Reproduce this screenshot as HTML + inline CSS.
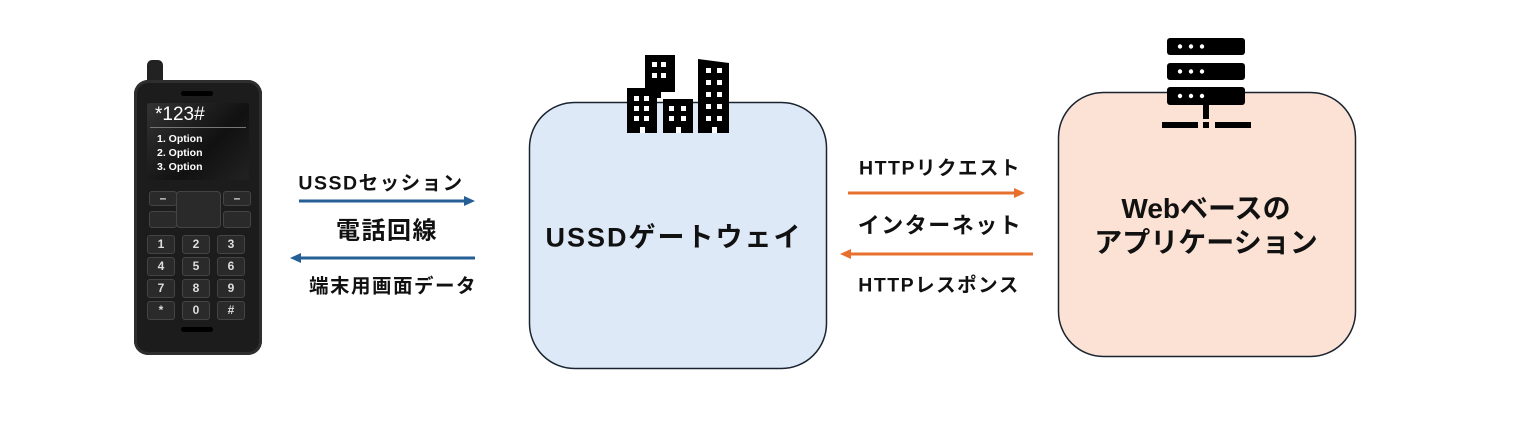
<!DOCTYPE html>
<html><head><meta charset="utf-8"><style>
body{margin:0;width:1530px;height:421px;background:#fff;position:relative;overflow:hidden;font-family:"Liberation Sans","Noto Sans CJK JP",sans-serif;font-weight:bold;color:#111}
.a{position:absolute}
.t{position:absolute;white-space:nowrap;transform:translate(-50%,-50%)}
.s{letter-spacing:1.5px}
.k{position:absolute;width:26px;height:17px;background:#2a2a2a;border:1px solid #444;border-radius:3px;color:#ddd;font-size:12px;text-align:center;line-height:17px}
</style></head><body>
<div class="a" style="left:147px;top:60px;width:16px;height:24px;background:#222;border-radius:5px 5px 0 0"></div>
<div class="a" style="left:134px;top:80px;width:128px;height:275px;background:#1c1c1c;border-radius:14px;box-shadow:inset 0 0 0 3px #2e2e2e"></div>
<div class="a" style="left:181px;top:91px;width:32px;height:5px;background:#000;border-radius:3px"></div>
<div class="a" style="left:147px;top:103px;width:102px;height:77px;background:linear-gradient(135deg,#333,#111 60%,#222);border-radius:3px"></div>
<div class="a" style="left:155px;top:104px;color:#fff;font-size:19px;font-weight:normal">*123#</div>
<div class="a" style="left:150px;top:127px;width:96px;height:1px;background:#777"></div>
<div class="a" style="left:157px;top:132px;color:#fff;font-size:10.5px;line-height:14px">1. Option<br>2. Option<br>3. Option</div>
<div class="k" style="left:149px;top:191px;height:13px;line-height:13px">–</div>
<div class="k" style="left:223px;top:191px;height:13px;line-height:13px">–</div>
<div class="k" style="left:149px;top:211px;height:15px"></div>
<div class="k" style="left:223px;top:211px;height:15px"></div>
<div class="a" style="left:176px;top:191px;width:43px;height:35px;background:#2a2a2a;border:1px solid #444;border-radius:4px"></div>
<div class="k" style="left:147px;top:235px">1</div><div class="k" style="left:182px;top:235px">2</div><div class="k" style="left:217px;top:235px">3</div>
<div class="k" style="left:147px;top:257px">4</div><div class="k" style="left:182px;top:257px">5</div><div class="k" style="left:217px;top:257px">6</div>
<div class="k" style="left:147px;top:279px">7</div><div class="k" style="left:182px;top:279px">8</div><div class="k" style="left:217px;top:279px">9</div>
<div class="k" style="left:147px;top:301px">*</div><div class="k" style="left:182px;top:301px">0</div><div class="k" style="left:217px;top:301px">#</div>
<div class="a" style="left:181px;top:327px;width:32px;height:5px;background:#000;border-radius:3px"></div>

<svg class="a" style="left:0;top:0" width="1530" height="421">
<rect x="529.5" y="102.5" width="297" height="266" rx="45" fill="#dde9f6" stroke="#1a2430" stroke-width="1.5"/>
<rect x="1058.5" y="92.5" width="297" height="264" rx="45" fill="#fbe2d5" stroke="#1a2430" stroke-width="1.5"/>
<g fill="#000">
<polygon points="645,55 675,55 675,92 661,92 661,98 645,98"/>
<rect x="627" y="88" width="30" height="45"/>
<rect x="663" y="99" width="30" height="34"/>
<polygon points="698,59 729,63 729,133 698,133"/>
</g>
<g fill="#fff">
<rect x="652" y="62" width="5" height="5"/><rect x="661" y="62" width="5" height="5"/><rect x="652" y="73" width="5" height="5"/><rect x="661" y="73" width="5" height="5"/>
<rect x="634" y="96" width="5" height="5"/><rect x="644" y="96" width="5" height="5"/><rect x="634" y="106" width="5" height="5"/><rect x="644" y="106" width="5" height="5"/><rect x="634" y="116" width="5" height="5"/><rect x="644" y="116" width="5" height="5"/>
<rect x="669" y="106" width="5" height="5"/><rect x="681" y="106" width="5" height="5"/><rect x="669" y="116" width="5" height="5"/><rect x="681" y="116" width="5" height="5"/>
<rect x="706" y="68" width="5" height="5"/><rect x="717" y="68" width="5" height="5"/><rect x="706" y="80" width="5" height="5"/><rect x="717" y="80" width="5" height="5"/><rect x="706" y="92" width="5" height="5"/><rect x="717" y="92" width="5" height="5"/><rect x="706" y="104" width="5" height="5"/><rect x="717" y="104" width="5" height="5"/><rect x="706" y="116" width="5" height="5"/><rect x="717" y="116" width="5" height="5"/>
<rect x="640" y="127" width="5" height="6"/><rect x="676" y="127" width="5" height="6"/><rect x="712" y="127" width="5" height="6"/>
</g>
<g fill="#000">
<rect x="1167" y="38" width="78" height="17" rx="3"/>
<rect x="1167" y="63" width="78" height="17" rx="3"/>
<rect x="1167" y="87" width="78" height="18" rx="3"/>
<rect x="1203" y="105" width="6" height="14"/>
<rect x="1162" y="122" width="36" height="6"/><rect x="1203" y="122" width="6" height="6"/><rect x="1215" y="122" width="36" height="6"/>
</g>
<g fill="#fff">
<circle cx="1180" cy="46.5" r="2.2"/><circle cx="1191" cy="46.5" r="2.2"/><circle cx="1202" cy="46.5" r="2.2"/>
<circle cx="1180" cy="71.5" r="2.2"/><circle cx="1191" cy="71.5" r="2.2"/><circle cx="1202" cy="71.5" r="2.2"/>
<circle cx="1180" cy="96" r="2.2"/><circle cx="1191" cy="96" r="2.2"/><circle cx="1202" cy="96" r="2.2"/>
</g>
<line x1="299" y1="201" x2="466" y2="201" stroke="#255f96" stroke-width="3"/>
<polygon points="475,201 464,196 464,206" fill="#255f96"/>
<line x1="299" y1="258" x2="475" y2="258" stroke="#255f96" stroke-width="3"/>
<polygon points="290,258 301,253 301,263" fill="#255f96"/>
<line x1="848" y1="193" x2="1016" y2="193" stroke="#e8702f" stroke-width="3"/>
<polygon points="1025,193 1014,188 1014,198" fill="#e8702f"/>
<line x1="849" y1="254" x2="1033" y2="254" stroke="#e8702f" stroke-width="3"/>
<polygon points="840,254 851,249 851,259" fill="#e8702f"/>
</svg>
<div class="t s" style="left:381px;top:181px;font-size:19.5px">USSDセッション</div>
<div class="t s" style="left:387px;top:228px;font-size:24px">電話回線</div>
<div class="t s" style="left:393px;top:284px;font-size:19.5px">端末用画面データ</div>
<div class="t" style="left:674px;top:235px;font-size:27px;letter-spacing:2px">USSDゲートウェイ</div>
<div class="t s" style="left:940px;top:166px;font-size:19.5px">HTTPリクエスト</div>
<div class="t s" style="left:940px;top:224px;font-size:22px">インターネット</div>
<div class="t s" style="left:939px;top:283px;font-size:19.5px">HTTPレスポンス</div>
<div class="t" style="left:1206px;top:207px;font-size:28px">Webベースの</div>
<div class="t" style="left:1206px;top:241px;font-size:28px">アプリケーション</div>
</body></html>
